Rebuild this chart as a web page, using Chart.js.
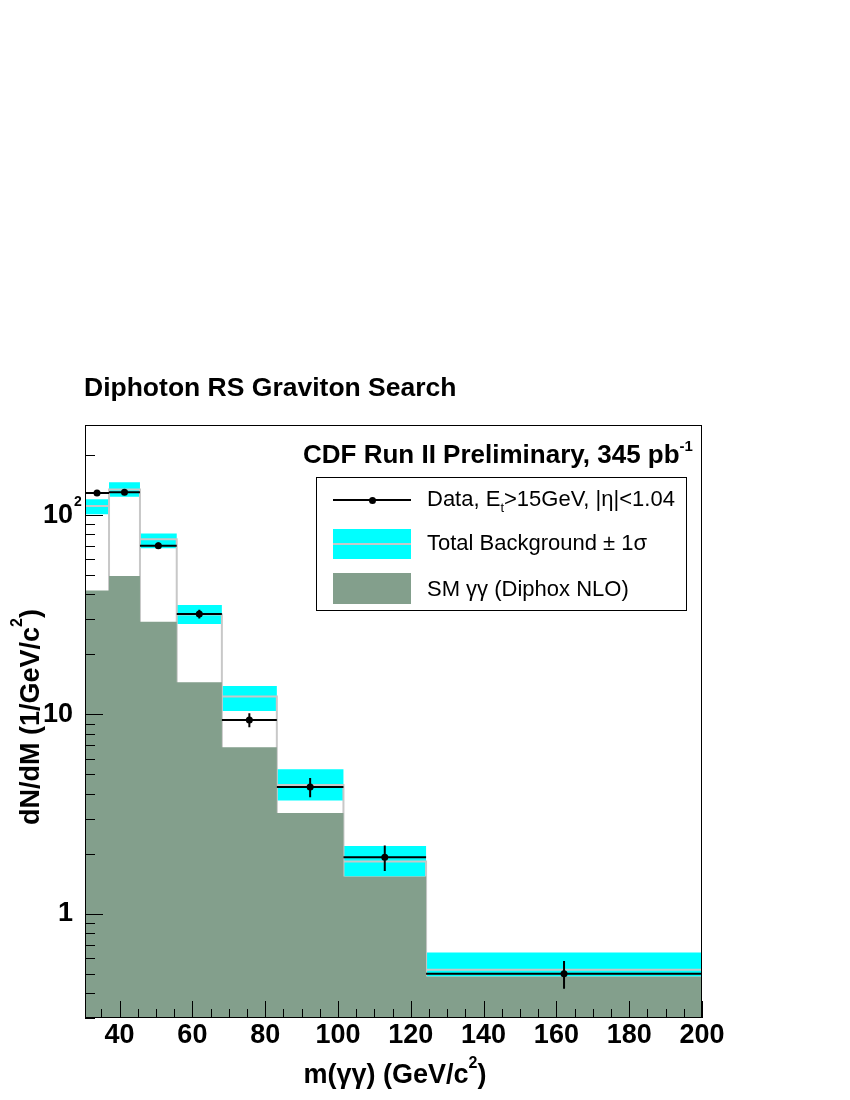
<!DOCTYPE html>
<html><head><meta charset="utf-8">
<script src="https://cdn.jsdelivr.net/npm/chart.js@4.4.1/dist/chart.umd.min.js"></script>
<style>
html,body{margin:0;padding:0;background:#fff;}
#wrap{position:relative;width:850px;height:1100px;font-family:'Liberation Sans',Arial,Helvetica,sans-serif;overflow:hidden;}
canvas{position:absolute;left:0;top:0;}
.t{position:absolute;white-space:nowrap;color:#000;}
.b{font-weight:bold;}
.sw{position:absolute;}
</style></head><body>
<div id="wrap">
<canvas id="c" width="850" height="1100"></canvas>
<div class="t b" style="left:84px;top:374px;font-size:26.5px;line-height:26.5px;">Diphoton RS Graviton Search</div>
<div class="t b" style="left:303px;top:441px;font-size:26px;line-height:26px;">CDF Run II Preliminary, 345 pb<span style="font-size:15px;position:relative;top:-12px;">-1</span></div>
<div class="sw" style="left:316px;top:477px;width:371px;height:134px;box-sizing:border-box;border:1px solid #000;background:#fff;"></div>
<div class="sw" style="left:333px;top:499px;width:78px;height:2px;background:#000;"></div>
<div class="sw" style="left:368.5px;top:496.5px;width:7px;height:7px;border-radius:50%;background:#000;"></div>
<div class="sw" style="left:333px;top:529px;width:78px;height:30px;background:#00ffff;"></div>
<div class="sw" style="left:333px;top:543px;width:78px;height:2px;background:#c8c8c8;"></div>
<div class="sw" style="left:333px;top:573px;width:78px;height:31px;background:#839f8c;"></div>
<div class="t" style="left:427px;top:487.5px;font-size:22px;line-height:22px;">Data, E<span style="font-size:13px;position:relative;top:6px;">t</span>&gt;15GeV, |η|&lt;1.04</div>
<div class="t" style="left:427px;top:531.5px;font-size:22px;line-height:22px;">Total Background ± 1σ</div>
<div class="t" style="left:427px;top:577.5px;font-size:22px;line-height:22px;">SM γγ (Diphox NLO)</div>
<div class="t b" style="left:195px;width:400px;text-align:center;top:1061px;font-size:27px;line-height:27px;">m(γγ) (GeV/c<span style="font-size:16px;position:relative;top:-15px;">2</span>)</div>
<div class="t b" style="left:-167.7px;width:400px;text-align:center;top:701.5px;font-size:27px;line-height:27px;transform:rotate(-90deg);">dN/dM (1/GeV/c<span style="font-size:16px;position:relative;top:-17px;">2</span>)</div>
</div>
<script>
// ---- data ----
const binEdges   = [30.5, 37.1, 45.6, 55.7, 68.1, 83.2, 101.5, 124.2, 200];
const dataValues = [129, 130.3, 70.2, 31.9, 9.38, 4.32, 1.92, 0.50];
const dataErrors = [4.4, 3.9, 2.6, 1.6, 0.75, 0.48, 0.28, 0.08];
const totalBkg   = [111, 134.5, 75.6, 31.7, 12.3, 4.43, 1.83, 0.524];
const bkgUp      = [120, 145.9, 80.9, 35.4, 13.9, 5.31, 2.19, 0.64];
const bkgDown    = [101, 123.5, 68.1, 28.4, 10.4, 3.70, 1.54, 0.485];
const smDiphox   = [41.8, 49.4, 29.2, 14.5, 6.85, 3.20, 1.54, 0.485];
const xMajorTicks = [40, 60, 80, 100, 120, 140, 160, 180, 200];
const xMinorTicks = [35, 45, 50, 55, 65, 70, 75, 85, 90, 95, 105, 110, 115, 125, 130, 135, 145, 150, 155, 165, 170, 175, 185, 190, 195];
const yMajorTicks = [1, 10, 100];
const yMinorTicks = [0.3, 0.4, 0.5, 0.6, 0.7, 0.8, 0.9, 2, 3, 4, 5, 6, 7, 8, 9, 20, 30, 40, 50, 60, 70, 80, 90, 200];
const yTickLabels = {1: '1', 10: '10', 100: '10'};
const yTickExponent = {100: '2'};
const xRange = [30.5, 200];
const yRange = [0.3, 283];

const FONT = "'Liberation Sans', Arial, Helvetica, sans-serif";
Chart.defaults.font.family = FONT;

function steps(vals) {
  const pts = [];
  vals.forEach((v, i) => { pts.push({x: binEdges[i], y: v}, {x: binEdges[i + 1], y: v}); });
  return pts;
}
function outline(vals) {
  const pts = [{x: binEdges[0], y: yRange[0]}];
  vals.forEach((v, i) => {
    pts.push({x: binEdges[i], y: v}, {x: binEdges[i + 1], y: v}, {x: binEdges[i + 1], y: yRange[0]});
  });
  return pts;
}
const centers = binEdges.slice(0, -1).map((e, i) => (e + binEdges[i + 1]) / 2);
const hBars = [], vBars = [];
dataValues.forEach((v, i) => {
  hBars.push({x: binEdges[i], y: v}, {x: binEdges[i + 1], y: v}, {x: centers[i], y: null});
  vBars.push({x: centers[i], y: v - dataErrors[i]}, {x: centers[i], y: v + dataErrors[i]}, {x: centers[i], y: null});
});

const clear = 'rgba(0,0,0,0)';
const frameTicks = {
  id: 'frameTicks',
  afterDatasetsDraw(chart) {
    const {ctx, chartArea: a, scales: {x, y}} = chart;
    ctx.save();
    ctx.strokeStyle = '#000';
    ctx.lineWidth = 1;
    ctx.beginPath();
    const vx = (v, len) => { const p = Math.round(x.getPixelForValue(v)) + 0.5; ctx.moveTo(p, a.bottom); ctx.lineTo(p, a.bottom - len); };
    const hy = (v, len) => { const p = Math.round(y.getPixelForValue(v)) + 0.5; ctx.moveTo(a.left, p); ctx.lineTo(a.left + len, p); };
    xMajorTicks.forEach(v => vx(v, 17));
    xMinorTicks.forEach(v => vx(v, 9));
    yMajorTicks.forEach(v => hy(v, 18));
    yMinorTicks.forEach(v => hy(v, 10));
    ctx.stroke();
    ctx.strokeRect(a.left + 0.5, a.top + 0.5, a.right - a.left - 1, a.bottom - a.top - 1);
    ctx.restore();
  },
  afterDraw(chart) {
    const {ctx, scales: {y}} = chart;
    ctx.save();
    ctx.fillStyle = '#000';
    ctx.font = 'bold 14px ' + FONT;
    ctx.textAlign = 'left';
    ctx.textBaseline = 'alphabetic';
    Object.keys(yTickExponent).forEach(k => {
      ctx.fillText(yTickExponent[k], y.right - 12 + 1, y.getPixelForValue(Number(k)) - 9);
    });
    ctx.restore();
  }
};

new Chart(document.getElementById('c'), {
  type: 'line',
  data: {
    datasets: [
      {label: 'bandUp', data: steps(bkgUp), borderColor: clear, borderWidth: 0, pointRadius: 0, fill: '+1', backgroundColor: '#00ffff', order: 5},
      {label: 'bandDown', data: steps(bkgDown), borderColor: clear, borderWidth: 0, pointRadius: 0, fill: false, order: 5},
      {label: 'total', data: outline(totalBkg), borderColor: '#c8c8c8', borderWidth: 2, pointRadius: 0, fill: false, order: 4, borderJoinStyle: 'miter'},
      {label: 'sm', data: steps(smDiphox), borderColor: clear, borderWidth: 0, pointRadius: 0, fill: 'start', backgroundColor: '#839f8c', order: 3},
      {label: 'dataH', data: hBars, borderColor: '#000', borderWidth: 2, pointRadius: 0, fill: false, spanGaps: false, order: 1},
      {label: 'dataV', data: vBars, borderColor: '#000', borderWidth: 2, pointRadius: 0, fill: false, spanGaps: false, order: 1},
      {label: 'data', data: dataValues.map((v, i) => ({x: centers[i], y: v})), showLine: false, pointRadius: 3.5, pointBorderWidth: 0, pointBackgroundColor: '#000', pointBorderColor: '#000', order: 0}
    ]
  },
  options: {
    responsive: false,
    devicePixelRatio: 1,
    animation: false,
    events: [],
    layout: {padding: {top: 425, right: 148, bottom: 0, left: 0}},
    plugins: {legend: {display: false}, tooltip: {enabled: false}, title: {display: false}},
    elements: {line: {tension: 0}},
    scales: {
      x: {
        type: 'linear', min: xRange[0], max: xRange[1], bounds: 'data',
        grid: {display: false, drawTicks: false}, border: {display: false},
        afterBuildTicks: s => { s.ticks = xMajorTicks.map(v => ({value: v})); },
        afterFit: s => { s.height = 82; },
        ticks: {autoSkip: false, maxRotation: 0, minRotation: 0, padding: 1, color: '#000',
          font: {size: 27, weight: 'bold'}, callback: v => String(v)}
      },
      y: {
        type: 'logarithmic', min: yRange[0], max: yRange[1], bounds: 'data',
        grid: {display: false, drawTicks: false}, border: {display: false},
        afterBuildTicks: s => { s.ticks = yMajorTicks.map(v => ({value: v})); },
        afterFit: s => { s.width = 85; },
        ticks: {autoSkip: false, padding: 12, color: '#000',
          font: {size: 27, weight: 'bold'}, callback: v => (yTickLabels[v] !== undefined ? yTickLabels[v] : '')}
      }
    }
  },
  plugins: [frameTicks]
});
</script>
</body></html>
